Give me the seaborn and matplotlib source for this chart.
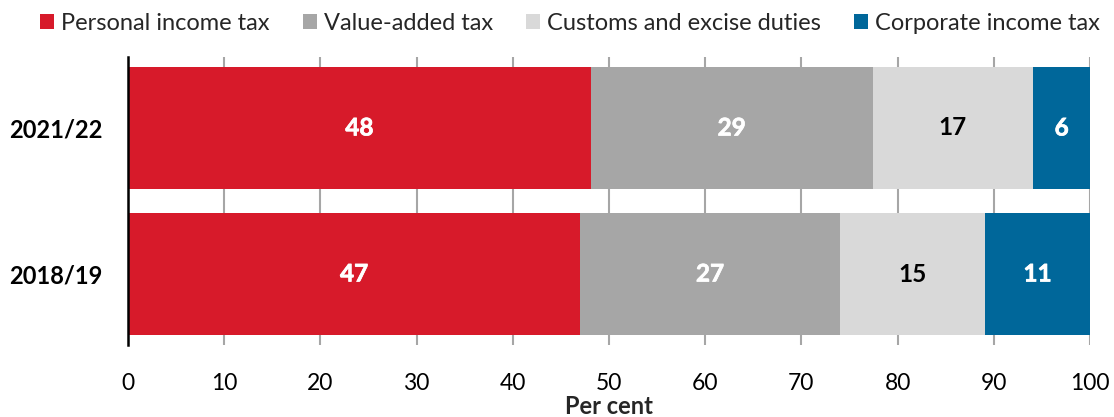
import numpy as np
import pandas as pd
import matplotlib
matplotlib.use("Agg")
import matplotlib.pyplot as plt
import matplotlib.patheffects as pe
import seaborn as sns

# ---- data ----
years = ["2021/22", "2018/19"]
categories = ["Personal income tax", "Value-added tax", "Customs and excise duties", "Corporate income tax"]
personal_income = [48.1, 47.0]
value_added = [29.3, 27.0]
customs_excise = [16.7, 15.1]
corporate_income = [5.9, 10.9]
label_values = [[48, 29, 17, 6], [47, 27, 15, 11]]
xticks = [0, 10, 20, 30, 40, 50, 60, 70, 80, 90, 100]

colors = ["#D71A2A", "#A6A6A6", "#D9D9D9", "#00679A"]
label_colors = ["white", "white", "black", "white"]

sns.set_theme(style="white")
plt.rcParams["font.family"] = ["Lato", "DejaVu Sans"]

series = [personal_income, value_added, customs_excise, corporate_income]
vals = np.array(series)          # shape (4 cats, 2 years)
cum = np.cumsum(vals, axis=0)     # cumulative ends

fig = plt.figure(figsize=(11.14, 4.17), dpi=100)
ax = fig.add_axes([128 / 1114, 1 - 345 / 417, (1090 - 128) / 1114, (345 - 57) / 417])

for k in reversed(range(len(categories))):
    df = pd.DataFrame({"year": years, "value": cum[k]})
    sns.barplot(data=df, x="value", y="year", orient="h", color=colors[k],
                width=0.836, saturation=1, ax=ax, label=categories[k],
                linewidth=0, zorder=2)

# data labels
for i in range(len(years)):
    start = 0.0
    for k in range(len(categories)):
        v = vals[k, i]
        t = ax.text(start + v / 2, i, str(label_values[i][k]), ha="center", va="center",
                    color=label_colors[k], fontsize=17.5, fontweight="bold", zorder=5)
        if label_colors[k] == "white":
            t.set_path_effects([pe.withStroke(linewidth=0.5, foreground="white")])
        start += v

ax.set_xlim(0, 100)
ax.set_ylim(1.486, -0.486)
ax.set_xticks(xticks)
ax.set_xticklabels([str(t) for t in xticks], fontsize=16.5)
ax.tick_params(axis="x", length=0, pad=20, colors="black")
ax.tick_params(axis="y", length=0, pad=18)
for lab in ax.get_yticklabels():
    lab.set_fontweight("bold")
    lab.set_fontsize(17)
    lab.set_color("black")
ax.set_ylabel("")
ax.set_xlabel("Per cent", fontsize=17, fontweight="bold", va="center")
ax.xaxis.set_label_coords(0.5, -(406 - 345) / 288)

ax.set_axisbelow(True)
ax.grid(axis="x", color="#A6A6A6", linewidth=1.5, zorder=0)
ax.grid(axis="y", visible=False)
for s in ["top", "right", "bottom"]:
    ax.spines[s].set_visible(False)
ax.spines["left"].set_color("black")
ax.spines["left"].set_linewidth(1.8)
ax.spines["left"].set_zorder(6)

h, l = ax.get_legend_handles_labels()
order = [l.index(c) for c in categories]
if ax.get_legend() is not None:
    ax.get_legend().remove()
fig.legend([h[j] for j in order], [l[j] for j in order], loc="upper center",
           bbox_to_anchor=(570 / 1114, 1.02), ncol=4, frameon=False, fontsize=17,
           handlelength=0.6, handleheight=0.6, handletextpad=0.3, columnspacing=1.4)

fig.savefig("out.png", dpi=100)
